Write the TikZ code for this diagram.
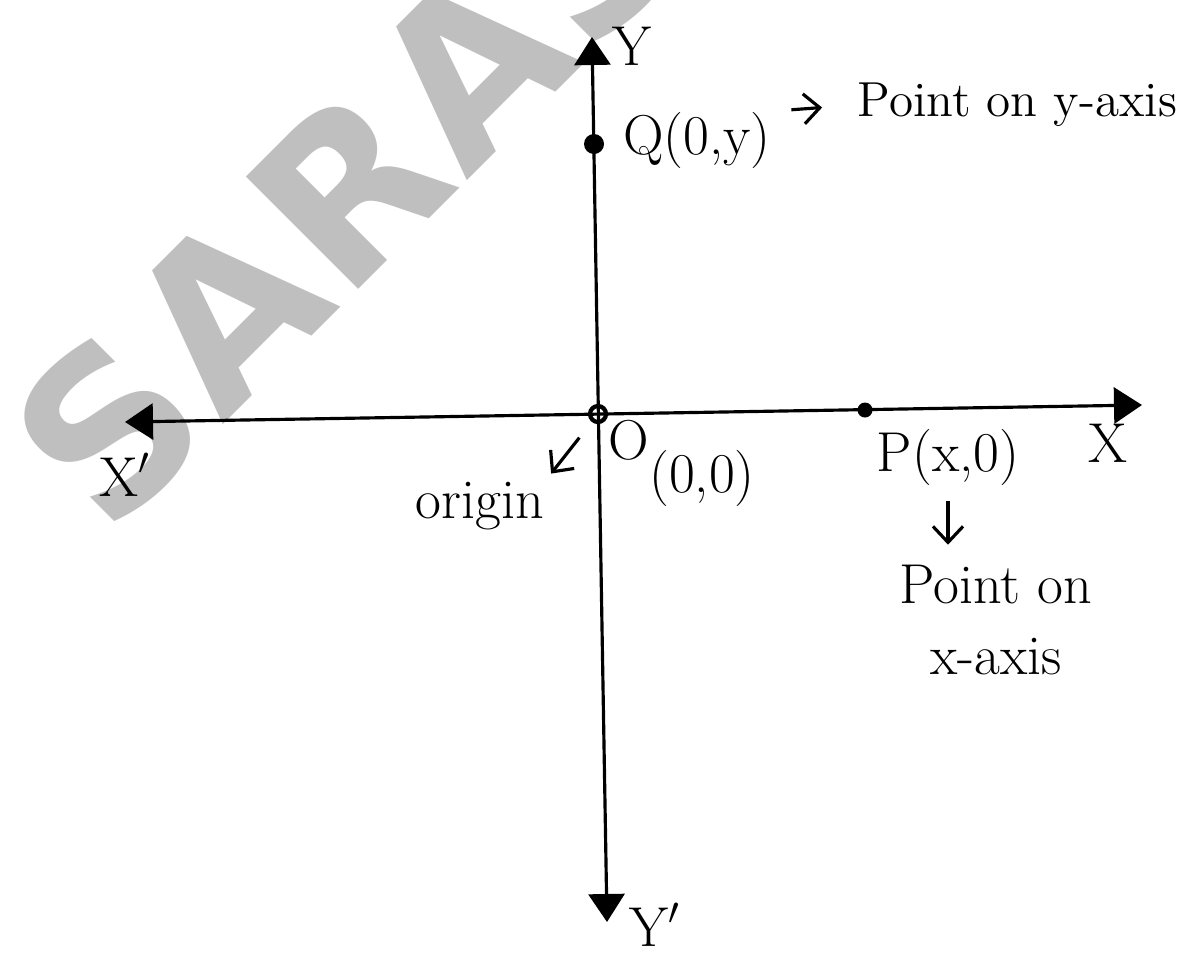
\documentclass[tikz,border=0pt]{standalone}
\usepackage{fontspec}
\newfontfamily\wmfont{DejaVu Sans}[LetterSpace=2]
\usepackage{tikz}
\usetikzlibrary{arrows.meta,positioning}

\begin{document}
\begin{tikzpicture}[
  hand/.style={font=\fontsize{16}{20}\selectfont,inner sep=0pt},
  axisarr/.style={{Triangle[length=0.28cm,width=0.36cm]}-{Triangle[length=0.28cm,width=0.36cm]},line width=0.9pt},
  notearr/.style={-{Straight Barb[length=1.6mm,width=3mm]},line width=0.9pt},
  ptdot/.style={circle,fill=black,inner sep=0pt,minimum size=#1}
]
  \useasboundingbox (0,0) rectangle (11.92,-9.55);
  % watermark
  \node[text=black!25,font=\wmfont\bfseries\fontsize{62}{62}\selectfont,rotate=45] (wmark) at (3.48,-1.88) {SARAS};
  % axes
  \coordinate (xl) at (1.25,-4.22);
  \coordinate (xr) at (11.42,-4.05);
  \coordinate (yt) at (5.92,-0.37);
  \coordinate (yb) at (6.07,-9.22);
  \draw[axisarr] (xl) -- (xr);
  \draw[axisarr] (yt) -- (yb);
  % points
  \node[circle,draw,line width=1.2pt,minimum size=0.16cm,inner sep=0pt] (origin) at (5.98,-4.14) {};
  \node[ptdot=0.2cm] (qpt) at (5.94,-1.44) {};
  \node[ptdot=0.15cm] (ppt) at (8.65,-4.10) {};
  % axis labels
  \node[hand] (ylab) at (6.32,-0.46) {Y};
  \node[hand] (yplab) at (6.55,-9.25) {Y$'$};
  \node[hand] (xlab) at (11.08,-4.43) {X};
  \node[hand] (xplab) at (1.25,-4.75) {X$'$};
  % origin
  \node[hand] (olab) at (6.29,-4.40) {O};
  \node[hand] (oco) at (7.02,-4.78) {(0,0)};
  \node[hand] (orlab) at (4.80,-5.06) {origin};
  \draw[notearr,shorten <=0.2cm,shorten >=0.1cm] (origin) -- (orlab.north east);
  % point on y-axis
  \node[hand] (qlab) at (6.97,-1.40) {Q(0,y)};
  \node[hand,font=\fontsize{14}{18}\selectfont,anchor=west] (qnote) at (8.57,-1.05) {Point on y-axis};
  \draw[notearr,shorten <=0.2cm,shorten >=0.35cm] (qlab.north east) -- (qnote.west);
  % point on x-axis
  \node[hand] (plab) at (9.48,-4.57) {P(x,0)};
  \node[hand,align=center] (pnote) at (9.96,-6.20) {Point on\\x-axis};
  \draw[notearr,shorten <=0.15cm,shorten >=0.2cm] (plab.south) -- (plab.south |- pnote.north);
\end{tikzpicture}
\end{document}
